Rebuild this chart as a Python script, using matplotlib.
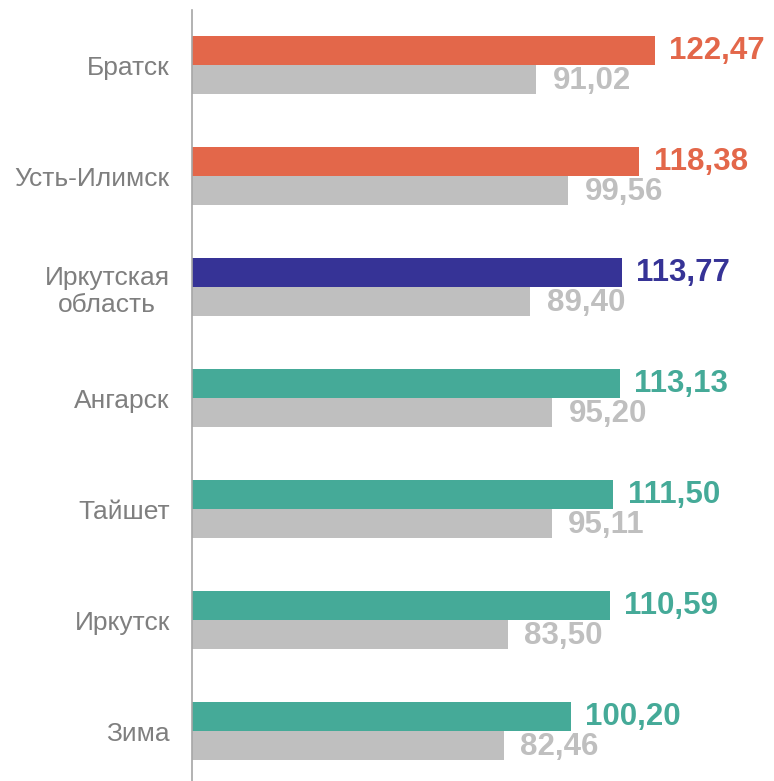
import matplotlib
matplotlib.use("Agg")
import matplotlib.pyplot as plt
import numpy as np

categories = ["Братск", "Усть-Илимск", "Иркутская\nобласть", "Ангарск", "Тайшет", "Иркутск", "Зима"]
current = [122.47, 118.38, 113.77, 113.13, 111.50, 110.59, 100.20]
previous = [91.02, 99.56, 89.40, 95.20, 95.11, 83.50, 82.46]
bar_colors = ["#E3674A", "#E3674A", "#363396", "#45AA98", "#45AA98", "#45AA98", "#45AA98"]
grey = "#BFBFBF"

plt.rcParams['font.family'] = ['Liberation Sans', 'DejaVu Sans']

W, H = 774, 781
fig = plt.figure(figsize=(W / 100, H / 100), dpi=100)
ax = fig.add_axes([192 / W, (H - 786.5) / H, (W - 192) / W, 777 / H])

y = np.arange(len(categories))
h = 0.265
off = 0.1325
ax.barh(y - off, current, height=h, color=bar_colors)
ax.barh(y + off, previous, height=h, color=grey)

for yi, v, c in zip(y, current, bar_colors):
    ax.text(v + 3.8, yi - off + 0.01, f"{v:.2f}".replace(".", ","), color=c,
            fontsize=22.5, fontweight="bold", va="center", ha="left")
for yi, v in zip(y, previous):
    ax.text(v + 4.4, yi + off + 0.01, f"{v:.2f}".replace(".", ","), color=grey,
            fontsize=22.5, fontweight="bold", va="center", ha="left")

ax.set_xlim(0, (W - 192) / 3.78)
ax.set_ylim(len(categories) - 0.5, -0.5)
ax.set_yticks(y)
ax.set_yticklabels(categories, fontsize=19, color="#7F7F7F", ha="right",
                   multialignment="center")
ax.tick_params(axis="y", length=0, pad=16)
ax.set_xticks([])
for s in ["top", "right", "bottom"]:
    ax.spines[s].set_visible(False)
ax.spines["left"].set_color("#A6A6A6")
ax.spines["left"].set_linewidth(1.2)

fig.savefig("out.png", dpi=100)
